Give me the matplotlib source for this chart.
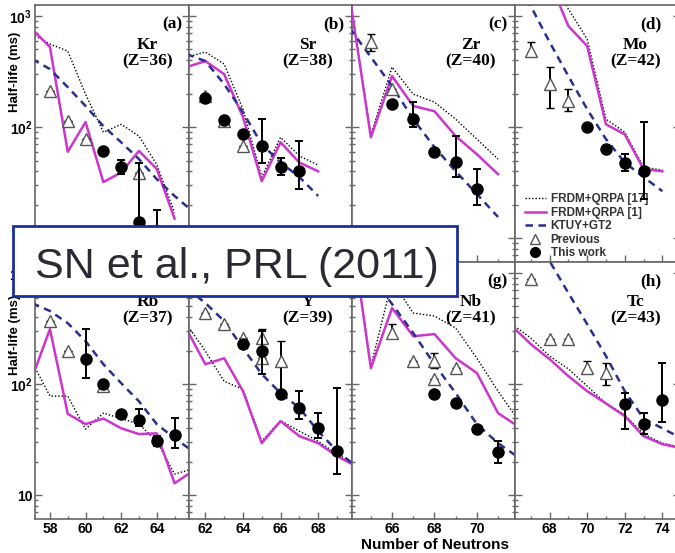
import numpy as np
import matplotlib.pyplot as plt
from matplotlib.patches import Rectangle
from matplotlib.lines import Line2D
from matplotlib.ticker import LogLocator, MultipleLocator, FuncFormatter, NullFormatter

plt.rcParams['font.family'] = ['Liberation Sans', 'DejaVu Sans']
plt.rcParams['mathtext.fontset'] = 'custom'
plt.rcParams['mathtext.bf'] = 'Liberation Sans:bold'
plt.rcParams['mathtext.rm'] = 'Liberation Sans'

nan = np.nan

# ---- Kr (Z=36)
kr_n = [57, 58, 59, 60, 61, 62, 63, 64, 65, 66]
kr_frdm17 = [688, 560, 484, 198, 90, 106, 83, 46, 17, nan]
kr_frdm1 = [764, 526, 60, 111, 32, 39, 61, 42, 15, nan]
kr_ktuy = [410, 333, 229, 155, 102, 73, 51.5, 34, 24, 17.5]
kr_prev_n = [58, 59, 60, 63]
kr_prev = [211, 113, 78, 39]
kr_prev_lo = [211, 113, 78, 39]
kr_prev_hi = [211, 113, 78, 39]
kr_this_n = [61, 62, 63, 64]
kr_this = [61, 44, 13.9, 9.5]
kr_this_lo = [61, 38, 5, 5]
kr_this_hi = [61, 51, 48, 18]

# ---- Sr (Z=38)
sr_n = [61, 62, 63, 64, 65, 66, 67, 68]
sr_frdm17 = [427, 474, 370, 145, 35.5, 81, 55, 45.5]
sr_frdm1 = [347, 393, 300, 123, 32.6, 73, 48, 40]
sr_ktuy = [455, 393, 244, 136, 70, 48, 35.5, 24]
sr_prev_n = [62, 63, 64]
sr_prev = [190, 113, 67]
sr_prev_lo = [190, 113, 67]
sr_prev_hi = [190, 113, 67]
sr_this_n = [62, 63, 64, 65, 66, 67]
sr_this = [182, 115, 86, 67, 43.6, 40]
sr_this_lo = [182, 115, 86, 48, 37, 27.6]
sr_this_hi = [182, 115, 86, 118, 52.6, 75]

# ---- Zr (Z=40)
zr_n = [64, 65, 66, 67, 68, 69, 70, 71]
zr_frdm17 = [1500, 85, 347, 198, 168, 118, 78, 51.5]
zr_frdm1 = [1500, 81, 288, 155, 139, 83, 57, 37.7]
zr_ktuy = [780, 427, 234, 118, 66, 40, 25, 15.5]
zr_prev_n = [65, 66]
zr_prev = [583, 220]
zr_prev_lo = [484, 220]
zr_prev_hi = [688, 220]
zr_this_n = [66, 67, 68, 69, 70]
zr_this = [161, 118, 60, 49, 28]
zr_this_lo = [161, 100, 60, 35.5, 20]
zr_this_hi = [161, 168, 60, 83, 41.8]

# ---- Mo (Z=42)
mo_n = [66, 67, 68, 69, 70, 71, 72, 73, 74]
mo_frdm17 = [nan, nan, 2500, 1156, 620, 118, 90, 43.6, 41]
mo_frdm1 = [nan, nan, 2065, 813, 537, 106, 86, 42, 40]
mo_ktuy = [2500, 1230, 583, 288, 145, 78, 48, 35.5, 26.5]
mo_prev_n = [67, 68, 69]
mo_prev = [484, 244, 171]
mo_prev_lo = [437, 148, 139]
mo_prev_hi = [583, 347, 220]
mo_this_n = [70, 71, 72, 73]
mo_this = [100, 63, 48, 40]
mo_this_lo = [100, 63, 40, 22.5]
mo_this_hi = [100, 63, 57, 111]

# ---- Rb (Z=37)
rb_n = [57, 58, 59, 60, 61, 62, 63, 64, 65, 66]
rb_frdm17 = [158, 78, 78, 39.3, 54.8, 49, 43.6, 30.6, 15.5, 17.2]
rb_frdm1 = [115, 313, 54, 43.6, 49, 40, 35.5, 36, 12.8, 16.4]
rb_ktuy = [537, 455, 354, 244, 151, 102, 70, 43.6, 32.6, 25]
rb_prev_n = [58, 59, 61]
rb_prev = [370, 198, 96]
rb_prev_lo = [370, 198, 96]
rb_prev_hi = [370, 198, 96]
rb_this_n = [60, 61, 62, 63, 64, 65]
rb_this = [168, 100, 54, 47.4, 30.6, 34.7]
rb_this_lo = [113, 100, 54, 42, 27.7, 26.5]
rb_this_hi = [313, 100, 54, 59.5, 34, 49.4]

# ---- Y (Z=39)
y_n = [61, 62, 63, 64, 65, 66, 67, 68, 69, 70]
y_frdm17 = [347, 198, 106, 90, 30.6, 47, 37.7, 30.6, 23.4, 19]
y_frdm1 = [313, 151, 171, 86.5, 29.4, 46.4, 34, 29.4, 22.5, 18.3]
y_ktuy = [733, 537, 370, 211, 123, 83, 61, 37.7, 25, 18.3]
y_prev_n = [62, 63, 64, 65, 65, 66]
y_prev = [437, 347, 260, 260, 171, 161]
y_prev_lo = [437, 347, 260, 207, 171, 86.5]
y_prev_hi = [437, 347, 260, 313, 171, 244]
y_this_n = [64, 65, 66, 67, 68, 69]
y_this = [229, 198, 81, 61, 40, 25]
y_this_lo = [229, 123, 81, 48.5, 32.6, 15.5]
y_this_hi = [229, 300, 81, 86.5, 54.8, 92]

# ---- Nb (Z=41)
nb_n = [64, 65, 66, 67, 68, 69, 70, 71, 72]
nb_frdm17 = [3000, 145, 847, 437, 410, 320, 171, 86.5, 46]
nb_frdm1 = [3130, 139, 484, 270, 282, 171, 126, 54.8, 41]
nb_ktuy = [1700, 940, 526, 288, 151, 83, 43.6, 29.4, 21.6]
nb_prev_n = [66, 67, 68, 68, 69]
nb_prev = [288, 161, 161, 111, 139]
nb_prev_lo = [260, 161, 139, 111, 139]
nb_prev_hi = [347, 161, 190, 111, 139]
nb_this_n = [68, 69, 70, 71]
nb_this = [81, 67, 39.3, 24.4]
nb_this_lo = [81, 67, 39.3, 19.4]
nb_this_hi = [81, 67, 39.3, 30.6]

# ---- Tc (Z=43)
tc_n = [66, 67, 68, 69, 70, 71, 72, 73, 74, 75]
tc_frdm17 = [347, 260, 179, 137, 96, 67, 53, 35.5, 29.4, 27]
tc_frdm1 = [333, 229, 168, 118, 86.5, 67, 51.5, 34, 28.8, 26.5]
tc_ktuy = [nan, 2490, 1282, 661, 347, 179, 86.5, 49, 40, 32.6]
tc_prev_n = [67, 68, 69, 70, 71]
tc_prev = [883, 254, 254, 139, 126]
tc_prev_lo = [883, 254, 254, 126, 98]
tc_prev_hi = [883, 254, 254, 161, 155]
tc_this_n = [72, 73, 74]
tc_this = [66, 43.6, 72]
tc_this_lo = [39.3, 35.5, 45.5]
tc_this_hi = [83, 54.8, 155]

panels = [
    ('(a)', 'Kr', 36, kr_n, kr_frdm17, kr_frdm1, kr_ktuy, kr_prev_n, kr_prev, kr_prev_lo, kr_prev_hi,
     kr_this_n, kr_this, kr_this_lo, kr_this_hi),
    ('(b)', 'Sr', 38, sr_n, sr_frdm17, sr_frdm1, sr_ktuy, sr_prev_n, sr_prev, sr_prev_lo, sr_prev_hi,
     sr_this_n, sr_this, sr_this_lo, sr_this_hi),
    ('(c)', 'Zr', 40, zr_n, zr_frdm17, zr_frdm1, zr_ktuy, zr_prev_n, zr_prev, zr_prev_lo, zr_prev_hi,
     zr_this_n, zr_this, zr_this_lo, zr_this_hi),
    ('(d)', 'Mo', 42, mo_n, mo_frdm17, mo_frdm1, mo_ktuy, mo_prev_n, mo_prev, mo_prev_lo, mo_prev_hi,
     mo_this_n, mo_this, mo_this_lo, mo_this_hi),
    ('(e)', 'Rb', 37, rb_n, rb_frdm17, rb_frdm1, rb_ktuy, rb_prev_n, rb_prev, rb_prev_lo, rb_prev_hi,
     rb_this_n, rb_this, rb_this_lo, rb_this_hi),
    ('(f)', 'Y', 39, y_n, y_frdm17, y_frdm1, y_ktuy, y_prev_n, y_prev, y_prev_lo, y_prev_hi,
     y_this_n, y_this, y_this_lo, y_this_hi),
    ('(g)', 'Nb', 41, nb_n, nb_frdm17, nb_frdm1, nb_ktuy, nb_prev_n, nb_prev, nb_prev_lo, nb_prev_hi,
     nb_this_n, nb_this, nb_this_lo, nb_this_hi),
    ('(h)', 'Tc', 43, tc_n, tc_frdm17, tc_frdm1, tc_ktuy, tc_prev_n, tc_prev, tc_prev_lo, tc_prev_hi,
     tc_this_n, tc_this, tc_this_lo, tc_this_hi),
]

# layout in pixels
W, H = 675, 553
col_edges = [35, 189, 352, 515, 680]
row_edges = [(5, 262), (262, 519)]
xlims = [(57.16, 65.81), (61.13, 69.80), (64.11, 71.80), (66.16, 74.94)]
ylims = (6.1, 1258)

MAGENTA = '#cc36cc'
NAVY = '#2b2f8f'
SPINE = '#666666'
serif = ['Liberation Serif', 'DejaVu Serif']

def ytick_fmt(v, pos):
    return {10: '10', 100: r'$\mathbf{10^2}$', 1000: r'$\mathbf{10^3}$'}.get(int(round(v)), '')

fig = plt.figure(figsize=(W / 100, H / 100), dpi=100)

for i, p in enumerate(panels):
    (tag, elem, z, n, f17, f1, ktuy, pn, pv, plo, phi, tn, tv, tlo, thi) = p
    r, c = divmod(i, 4)
    top, bot = row_edges[r]
    ax = fig.add_axes([col_edges[c] / W, 1 - bot / H,
                       (col_edges[c + 1] - col_edges[c]) / W, (bot - top) / H])
    ax.set_yscale('log')

    ax.plot(n, f17, color='black', lw=1.0, ls=(0, (1, 1.4)), zorder=2)
    ax.plot(n, f1, color=MAGENTA, lw=1.8, zorder=3)
    ax.plot(n, ktuy, color=NAVY, lw=1.8, ls=(0, (3, 2.2)), zorder=4)

    pv_a = np.array(pv, float)
    ax.errorbar(pn, pv, yerr=[pv_a - np.array(plo), np.array(phi) - pv_a],
                fmt='^', ms=8, mfc='white', mec='#555555', mew=1.0,
                ecolor='black', elinewidth=1.4, capsize=3, capthick=1.4, zorder=5)
    tv_a = np.array(tv, float)
    ax.errorbar(tn, tv, yerr=[tv_a - np.array(tlo), np.array(thi) - tv_a],
                fmt='o', ms=8, mfc='black', mec='black',
                ecolor='black', elinewidth=1.4, capsize=3, capthick=1.4, zorder=6)

    ax.set_xlim(*xlims[c])
    ax.set_ylim(*ylims)
    ax.xaxis.set_major_locator(MultipleLocator(2))
    ax.xaxis.set_minor_locator(MultipleLocator(1))
    ax.yaxis.set_major_locator(LogLocator(base=10))
    ax.yaxis.set_minor_locator(LogLocator(base=10, subs=np.arange(2, 10)))
    ax.yaxis.set_major_formatter(FuncFormatter(ytick_fmt))
    ax.yaxis.set_minor_formatter(NullFormatter())
    ax.tick_params(which='both', direction='in', left=True, right=True, top=False,
                   color=SPINE, width=1.0, labelsize=10)
    ax.tick_params(which='major', length=5)
    ax.tick_params(which='minor', length=2.5)
    for lab in ax.get_xticklabels() + ax.get_yticklabels():
        lab.set_fontweight('bold')
    ax.tick_params(axis='x', labelbottom=(r == 1), pad=2)
    ax.tick_params(axis='y', labelleft=(c == 0), pad=2)
    for s in ax.spines.values():
        s.set_color(SPINE)
        s.set_linewidth(1.2)

    lx = 0.89 if c == 3 else 0.955
    ax.text(lx, 0.925, tag, transform=ax.transAxes, ha='right', va='center',
            family=serif, fontweight='bold', fontsize=12.5)
    ex = 0.73
    ax.text(ex, 0.845, elem, transform=ax.transAxes, ha='center', va='center',
            family=serif, fontweight='bold', fontsize=12.5)
    ax.text(ex, 0.78, '(Z=%d)' % z, transform=ax.transAxes, ha='center', va='center',
            family=serif, fontweight='bold', fontsize=12.5)

    if tag == '(d)':
        handles = [
            Line2D([], [], color='black', lw=1.0, ls=(0, (1, 1.4))),
            Line2D([], [], color=MAGENTA, lw=1.8),
            Line2D([], [], color=NAVY, lw=1.8, ls=(0, (3, 2.2))),
            Line2D([], [], ls='none', marker='^', ms=7, mfc='white', mec='#555555'),
            Line2D([], [], ls='none', marker='o', ms=7, mfc='black', mec='black'),
        ]
        labels = ['FRDM+QRPA [17]', 'FRDM+QRPA [1]', 'KTUY+GT2', 'Previous', 'This work']
        leg = ax.legend(handles, labels, loc='upper left', bbox_to_anchor=(0.03, 0.285),
                        frameon=False, fontsize=8.5, handlelength=1.8, handletextpad=0.4,
                        labelspacing=0.12, borderaxespad=0.2, borderpad=0.2)
        for t in leg.get_texts():
            t.set_fontweight('bold')
            t.set_color('#333333')

# axis labels
fig.text(15 / W, 1 - 72 / H, 'Half-life (ms)', rotation=90, ha='center', va='center',
         fontsize=9.5, fontweight='bold')
fig.text(15 / W, 1 - 335 / H, 'Half-life (ms)', rotation=90, ha='center', va='center',
         fontsize=9.5, fontweight='bold')
fig.text(435 / W, 1 - 545 / H, 'Number of Neutrons', ha='center', va='center',
         fontsize=11, fontweight='bold')

# citation box overlay
box = Rectangle((13 / W, 1 - 296 / H), (457 - 13) / W, (296 - 226) / H,
                transform=fig.transFigure, facecolor='white', edgecolor='#1c2f9c',
                linewidth=2, zorder=20)
fig.add_artist(box)
fig.text(35 / W, 1 - 278 / H, 'SN et al., PRL (2011)', ha='left', va='baseline',
         fontsize=31, color='#2a2a33', zorder=21)

fig.savefig('out.png', dpi=100, facecolor='white')
